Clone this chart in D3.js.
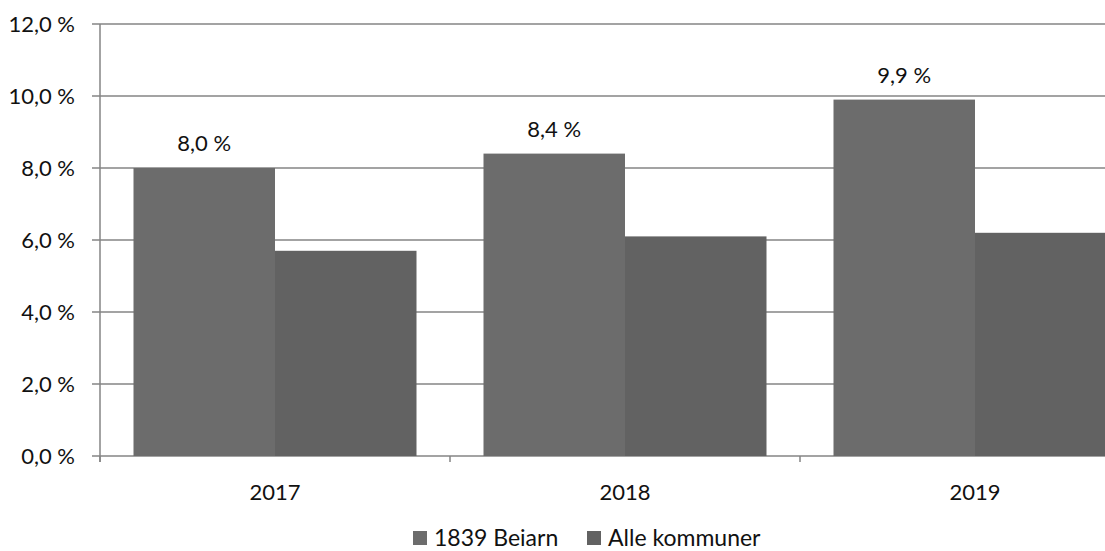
<!DOCTYPE html>
<html><head><meta charset="utf-8">
<script src="https://cdn.jsdelivr.net/npm/d3@7/dist/d3.min.js"></script>
<style>
html,body{margin:0;padding:0;background:#fff;}
svg text{font-family:Lato,"Open Sans",sans-serif;fill:#111;}
</style></head>
<body><svg id="c" width="1105" height="551"></svg>
<script>
const categories = ["2017", "2018", "2019"];
const seriesNames = ["1839 Beiarn", "Alle kommuner"];
const beiarn = [8.0, 8.4, 9.9];
const alleKommuner = [5.7, 6.1, 6.2];
const yTicks = [0, 2, 4, 6, 8, 10, 12];
const valueLabels = ["8,0 %", "8,4 %", "9,9 %"];

const colors = ["#6c6c6c", "#626262"];
const svg = d3.select("#c");
const x = d3.scaleBand().domain(categories).range([100, 1150]).padding(0);
const xs = d3.scaleBand().domain(seriesNames).range([33.5, 316.5]).padding(0);
const y = d3.scaleLinear().domain([0, 12]).range([456, 24]);
const fmt = v => v.toFixed(1).replace(".", ",") + " %";

// gridlines
svg.append("g").selectAll("line").data(yTicks).join("line")
  .attr("x1", 92).attr("x2", 1105)
  .attr("y1", d => y(d)).attr("y2", d => y(d))
  .attr("stroke", "#858585").attr("stroke-width", 1.5);

// y-axis line
svg.append("line").attr("x1", 100).attr("x2", 100).attr("y1", y(12)).attr("y2", y(0) + 6)
  .attr("stroke", "#858585").attr("stroke-width", 1.5);

// y tick labels
svg.append("g").selectAll("text").data(yTicks).join("text")
  .attr("x", 75).attr("y", d => y(d)).attr("dy", "0.36em")
  .attr("text-anchor", "end").attr("font-size", 22).text(d => fmt(d));

// bars
const data = categories.map((c, i) => ({c, vals: [beiarn[i], alleKommuner[i]]}));
const g = svg.append("g").selectAll("g").data(data).join("g")
  .attr("transform", d => `translate(${x(d.c)},0)`);
g.selectAll("rect").data(d => d.vals.map((v, j) => ({s: seriesNames[j], v, j}))).join("rect")
  .attr("x", d => xs(d.s)).attr("width", xs.bandwidth())
  .attr("y", d => y(d.v)).attr("height", d => y(0) - y(d.v))
  .attr("fill", d => colors[d.j]);

// value labels on Beiarn
svg.append("g").selectAll("text").data(categories).join("text")
  .attr("x", c => x(c) + xs(seriesNames[0]) + xs.bandwidth() / 2)
  .attr("y", (c, i) => y(beiarn[i]) - 25).attr("dy", "0.36em")
  .attr("text-anchor", "middle").attr("font-size", 22)
  .text((c, i) => valueLabels[i]);

// category ticks
svg.append("g").selectAll("line").data(categories).join("line")
  .attr("x1", c => x(c)).attr("x2", c => x(c))
  .attr("y1", y(0)).attr("y2", y(0) + 6)
  .attr("stroke", "#858585").attr("stroke-width", 1.5);

// category labels
svg.append("g").selectAll("text").data(categories).join("text")
  .attr("x", c => x(c) + x.bandwidth() / 2).attr("y", 492).attr("dy", "0.36em")
  .attr("text-anchor", "middle").attr("font-size", 22).text(c => c);

// legend
const legendX = [413, 587];
const lg = svg.append("g").selectAll("g").data(seriesNames).join("g")
  .attr("transform", (d, i) => `translate(${legendX[i]},538)`);
lg.append("rect").attr("x", 0).attr("y", -7).attr("width", 14).attr("height", 14)
  .attr("fill", (d, i) => colors[i]);
lg.append("text").attr("x", 21).attr("y", 0).attr("dy", "0.36em")
  .attr("font-size", 23).text(d => d);
</script></body></html>
